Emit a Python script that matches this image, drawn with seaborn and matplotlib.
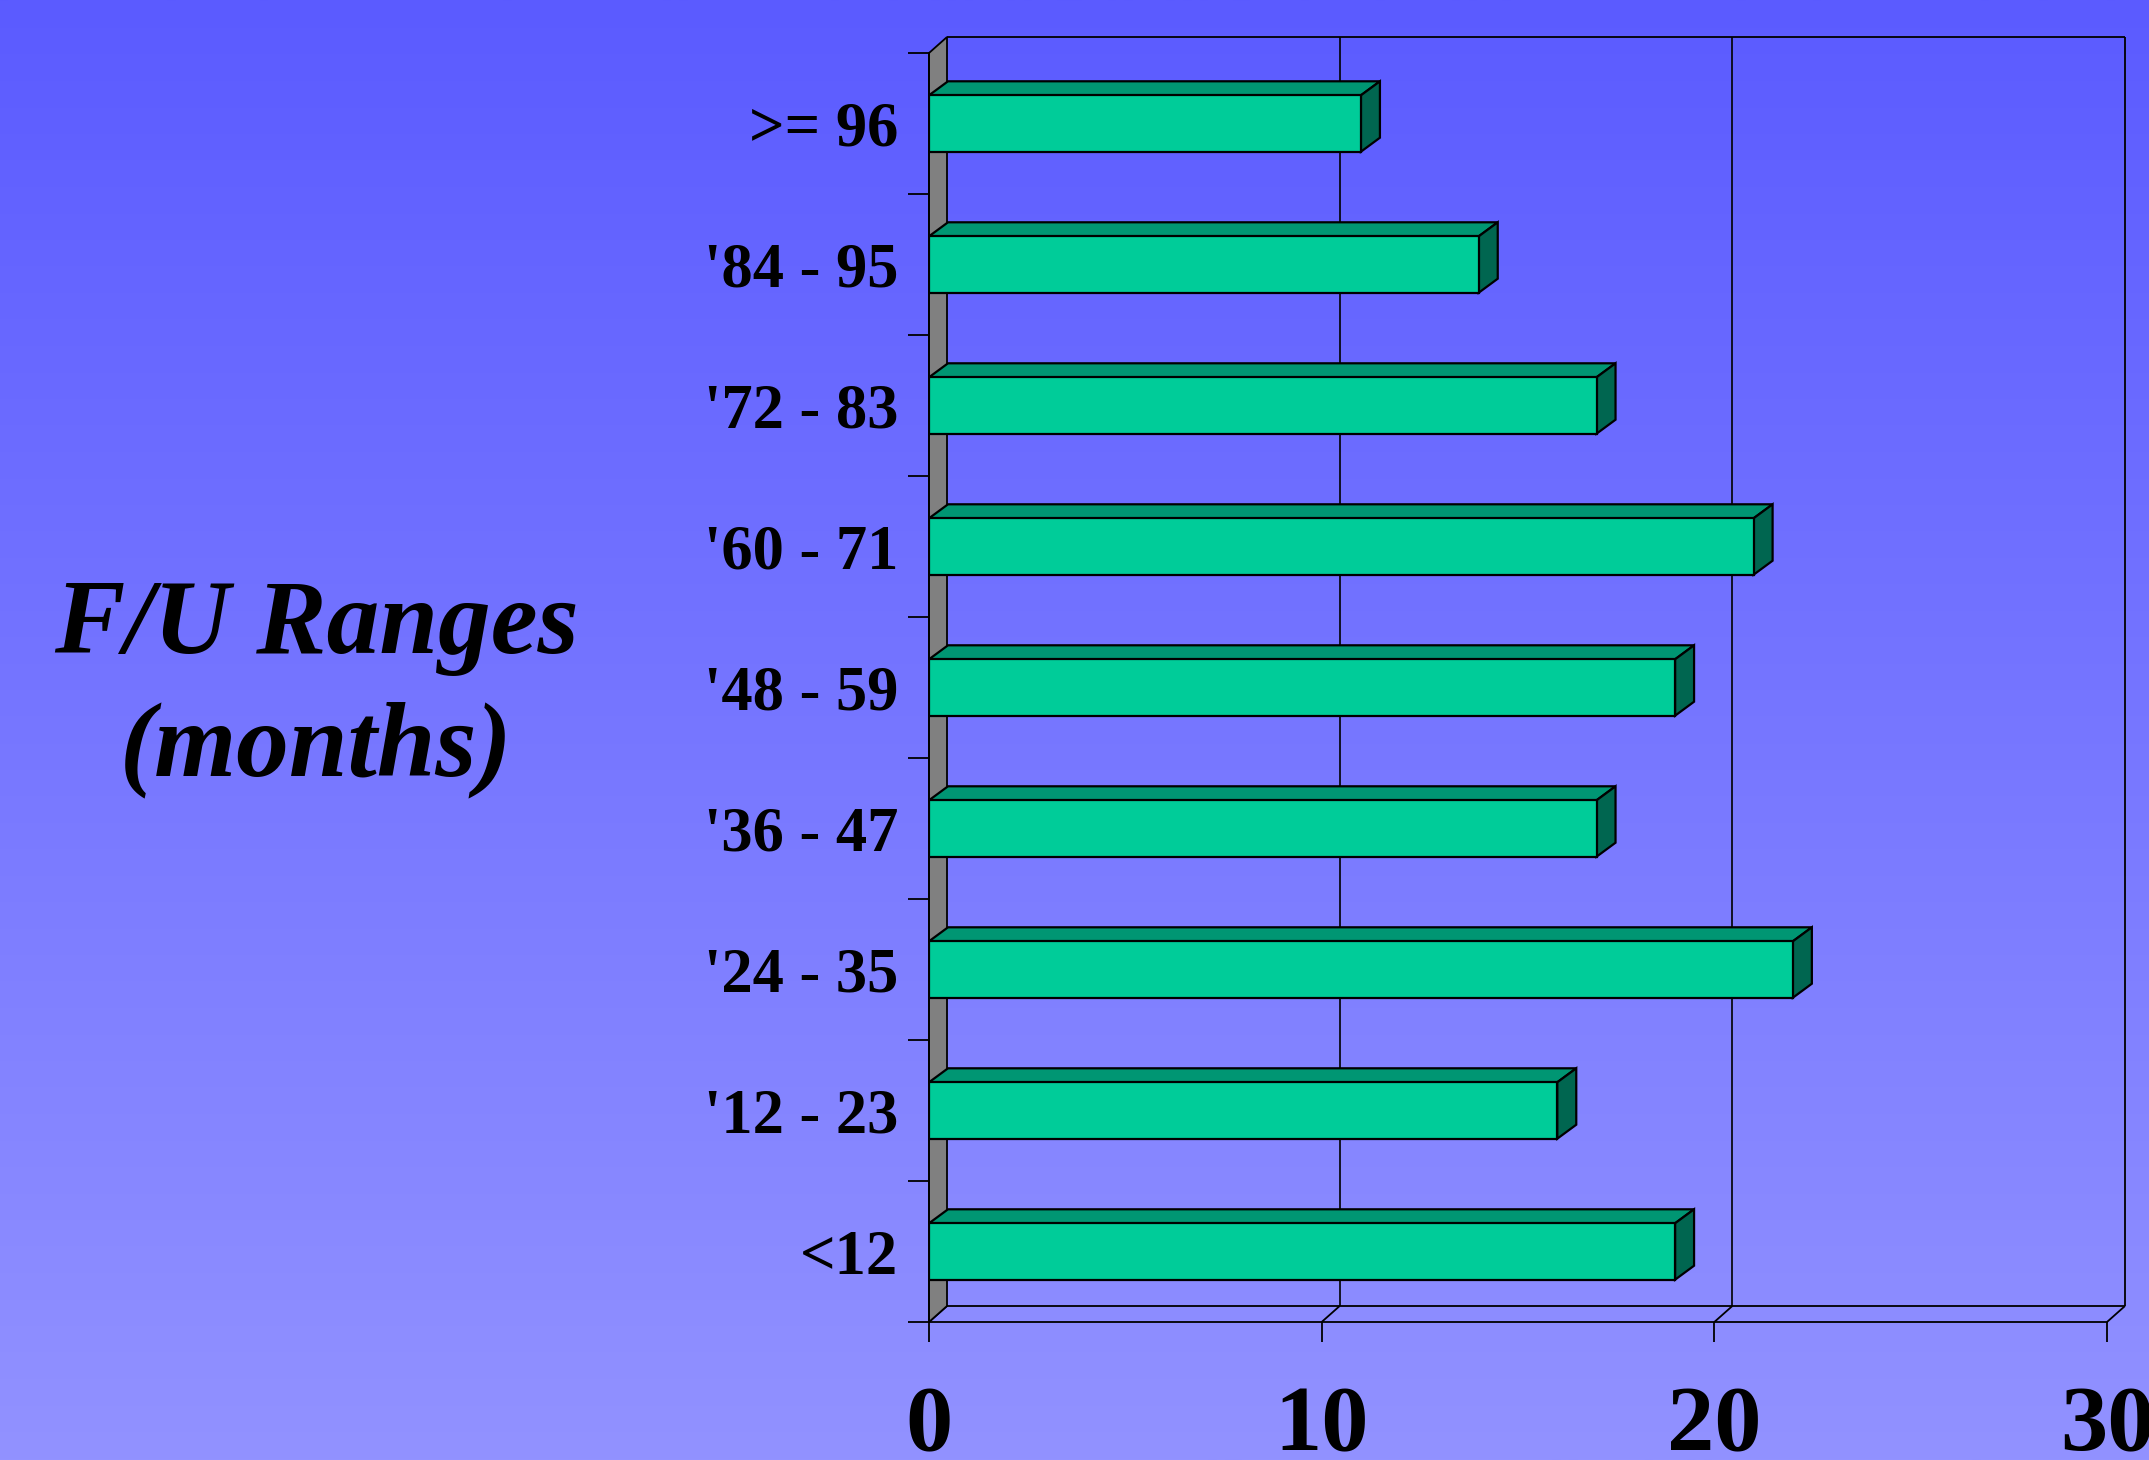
import numpy as np
import pandas as pd
import matplotlib
matplotlib.use("Agg")
import matplotlib.pyplot as plt
from matplotlib.patches import Polygon
import seaborn as sns

# ---- data -------------------------------------------------------------
ranges = [">= 96", "'84 - 95", "'72 - 83", "'60 - 71", "'48 - 59",
          "'36 - 47", "'24 - 35", "'12 - 23", "<12"]
patients = [11, 14, 17, 21, 19, 17, 22, 16, 19]
x_ticks = [0, 10, 20, 30]
title_lines = ["F/U Ranges", "(months)"]

df = pd.DataFrame({"range": ranges, "patients": patients})

# ---- figure / layout (pixel based) ------------------------------------
W, H, DPI = 2149, 1460, 100
fig = plt.figure(figsize=(W / DPI, H / DPI), dpi=DPI)

# vertical blue gradient backdrop
bg = fig.add_axes([0, 0, 1, 1], zorder=-10)
t = np.linspace(0, 1, 512)[:, None, None]
c_top = np.array([91, 91, 255]) / 255
c_bot = np.array([146, 146, 255]) / 255
bg.imshow(c_top + (c_bot - c_top) * t, aspect="auto", extent=[0, 1, 0, 1],
          origin="upper")
bg.axis("off")

left_px, right_px, top_px, bottom_px = 929, 2107, 53, 1322
ax = fig.add_axes([left_px / W, 1 - bottom_px / H,
                   (right_px - left_px) / W, (bottom_px - top_px) / H])
ax.patch.set_alpha(0)

xmax = x_ticks[-1]
n = len(ranges)
ppu_x = (right_px - left_px) / xmax
ppu_y = (bottom_px - top_px) / n


def back(x, y, dx_px, dy_px):
    """Shift a front-plane data point into the depth plane."""
    return (x + dx_px / ppu_x, y - dy_px / ppu_y)


WALL = (18, 16)
DEPTH = (19, 14)
y_top, y_bot = -0.5, n - 0.5
frame_lw = 1.3
bar_lw = 1.6
edge = "black"

# back wall frame, grid lines and floor
def seg(p, q, lw=frame_lw, z=1):
    ax.plot([p[0], q[0]], [p[1], q[1]], color=edge, lw=lw, zorder=z,
            clip_on=False, solid_capstyle="butt")

seg(back(0, y_top, *WALL), back(xmax, y_top, *WALL))
seg(back(xmax, y_top, *WALL), back(xmax, y_bot, *WALL))
seg(back(0, y_bot, *WALL), back(xmax, y_bot, *WALL))
for xv in x_ticks[1:-1]:
    seg(back(xv, y_top, *WALL), back(xv, y_bot, *WALL), lw=1.2)
for xv in x_ticks:
    seg((xv, y_bot), back(xv, y_bot, *WALL))

# grey side wall
ax.add_patch(Polygon([(0, y_bot), (0, y_top), back(0, y_top, *WALL),
                      back(0, y_bot, *WALL)], closed=True,
                     facecolor="#808080", edgecolor=edge, lw=frame_lw,
                     zorder=2, clip_on=False))

# front faces of the bars
sns.barplot(data=df, x="patients", y="range", orient="h", width=0.4,
            color="#00CC99", saturation=1, edgecolor=edge, linewidth=bar_lw,
            ax=ax, zorder=6)

# top and side faces give the bars their depth
for p in ax.patches:
    if p.get_zorder() != 6:
        continue
    x0, y0, w, h = p.get_x(), p.get_y(), p.get_width(), p.get_height()
    ya, yb = min(y0, y0 + h), max(y0, y0 + h)
    x1 = x0 + w
    top_face = [(x0, ya), (x1, ya), back(x1, ya, *DEPTH), back(x0, ya, *DEPTH)]
    side_face = [(x1, ya), (x1, yb), back(x1, yb, *DEPTH), back(x1, ya, *DEPTH)]
    ax.add_patch(Polygon(top_face, closed=True, facecolor="#009673",
                         edgecolor=edge, lw=bar_lw, zorder=5, clip_on=False))
    ax.add_patch(Polygon(side_face, closed=True, facecolor="#006650",
                         edgecolor=edge, lw=bar_lw, zorder=5, clip_on=False))

ax.set_xlim(0, xmax)
ax.set_ylim(y_bot, y_top)
ax.set_xlabel("")
ax.set_ylabel("")
for s in ("top", "right"):
    ax.spines[s].set_visible(False)
for s in ("left", "bottom"):
    ax.spines[s].set_linewidth(frame_lw)
    ax.spines[s].set_zorder(3)

serif = "Liberation Serif"
ax.set_yticks(range(n))
ax.set_yticklabels(ranges, fontfamily=serif, fontweight="bold", fontsize=45)
ax.set_yticks(np.arange(n + 1) - 0.5, minor=True)
ax.tick_params(axis="y", which="major", length=0, pad=22.3)
ax.tick_params(axis="y", which="minor", length=15, width=frame_lw)

ax.set_xticks(x_ticks)
ax.set_xticklabels([str(v) for v in x_ticks], fontfamily=serif,
                   fontweight="bold", fontsize=68)
ax.tick_params(axis="x", which="major", length=14.4, width=frame_lw, pad=31)
ax.tick_params(axis="x", which="minor", length=0)

# title block on the left
for line, ybase in zip(title_lines, (653, 775)):
    fig.text(316 / W, 1 - ybase / H, line, ha="center", va="baseline",
             fontsize=76, fontfamily=serif, fontweight="bold",
             fontstyle="italic")

fig.savefig("out.png", dpi=DPI)
